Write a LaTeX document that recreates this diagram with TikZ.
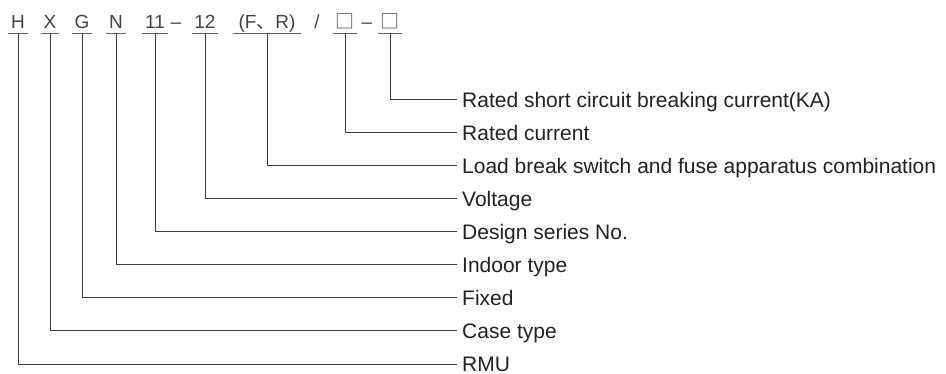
\documentclass[tikz,border=0pt]{standalone}
\usepackage{fontspec}
\setmainfont{Liberation Sans}
\newfontfamily\cjk{Noto Sans CJK SC}
\definecolor{ink}{HTML}{222222}
\definecolor{wire}{HTML}{3C3C3C}

\begin{document}
\begin{tikzpicture}[x=1pt,y=-1pt,
	code/.style={anchor=base,font=\fontsize{19}{19}\selectfont,text=ink!85,text height=14pt,text depth=0pt,inner xsep=2.5pt,inner ysep=4pt},
	sep/.style={anchor=base,font=\fontsize{19}{19}\selectfont,text=ink!85,inner sep=0pt},
	lbl/.style={anchor=west,font=\fontsize{21}{21}\selectfont,text=ink,text height=15pt,text depth=0pt,inner xsep=5pt,inner ysep=0pt},
	uline/.style={draw=wire!80,line width=0.9pt},
	wire/.style={draw=wire,line width=1pt}]
	\useasboundingbox (0,0) rectangle (946,374);

	% type code
	\node[code] (cH) at (18,29) {H};
	\node[code] (cX) at (50,29) {X};
	\node[code] (cG) at (82,29) {G};
	\node[code] (cN) at (116,29) {N};
	\node[code] (cSer) at (155,29) {11};
	\node[sep] (d1) at (176,29) {--};
	\node[code] (cVol) at (205,29) {12};
	\node[code,minimum width=67pt] (cFR) at (267,29) {(F{\cjk 、}R)};
	\node[sep] (sl) at (317,29) {/};
	\node[code,inner xsep=2pt] (cCur) at (345,29) {\cjk □};
	\node[sep] (d2) at (367,29) {--};
	\node[code,inner xsep=2pt] (cBrk) at (390,29) {\cjk □};

	\foreach \n in {cH,cX,cG,cN,cSer,cVol,cFR,cCur,cBrk}
		\draw[uline] (\n.south west) -- (\n.south east);

	% meanings
	\node[lbl] (lBrk) at (457,100) {Rated short circuit breaking current(KA)};
	\node[lbl] (lCur) at (457,133) {Rated current};
	\node[lbl] (lFR) at (457,166) {Load break switch and fuse apparatus combination};
	\node[lbl] (lVol) at (457,199) {Voltage};
	\node[lbl] (lSer) at (457,232) {Design series No.};
	\node[lbl] (lN) at (457,265) {Indoor type};
	\node[lbl] (lG) at (457,298) {Fixed};
	\node[lbl] (lX) at (457,331) {Case type};
	\node[lbl] (lH) at (457,364) {RMU};

	\draw[wire] (cBrk.south) |- (lBrk.west);
	\draw[wire] (cCur.south) |- (lCur.west);
	\draw[wire] (cFR.south) |- (lFR.west);
	\draw[wire] (cVol.south) |- (lVol.west);
	\draw[wire] (cSer.south) |- (lSer.west);
	\draw[wire] (cN.south) |- (lN.west);
	\draw[wire] (cG.south) |- (lG.west);
	\draw[wire] (cX.south) |- (lX.west);
	\draw[wire] (cH.south) |- (lH.west);
\end{tikzpicture}
\end{document}
